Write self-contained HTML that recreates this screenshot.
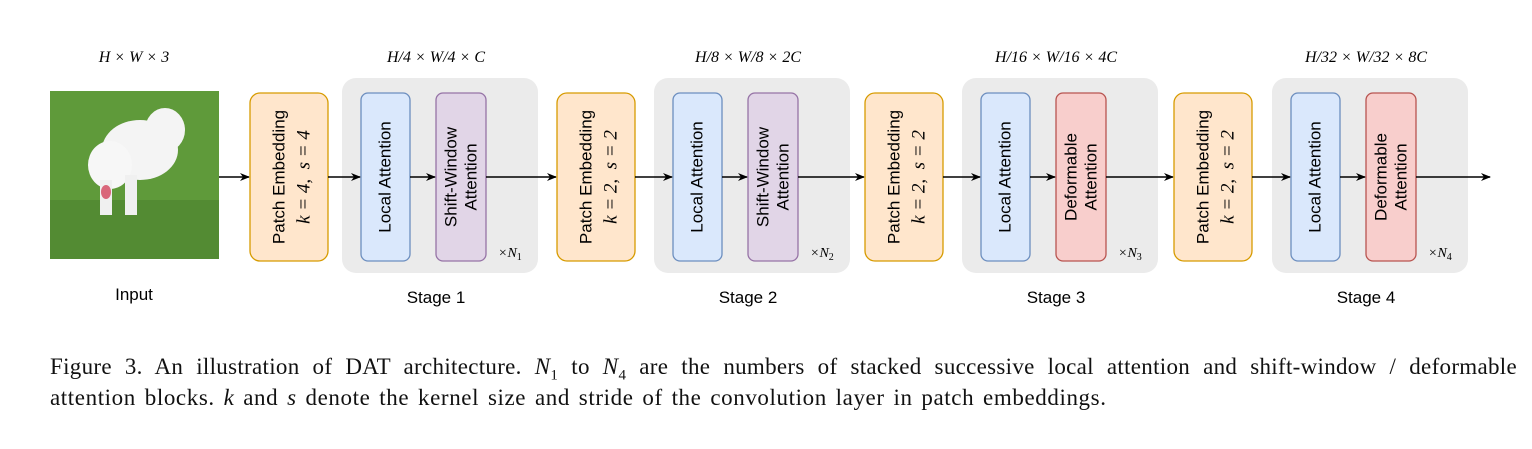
<!DOCTYPE html>
<html><head><meta charset="utf-8"><style>
body{margin:0;background:#fff;width:1532px;height:449px;overflow:hidden}
.cap{position:absolute;left:50px;font-family:"Liberation Serif",serif;font-size:23px;letter-spacing:0.6px;word-spacing:2.5px;line-height:31px;color:#111;width:1467px;white-space:nowrap}
.l1{top:351px;text-align:justify;text-align-last:justify;white-space:normal;word-spacing:0;letter-spacing:0.3px}
.l2{top:382px}
i{font-style:italic}
</style></head><body>
<svg width="1532" height="449" style="position:absolute;left:0;top:0" font-family="Liberation Sans, sans-serif">
<defs><marker id="a" markerWidth="10" markerHeight="8" refX="9" refY="4" orient="auto" markerUnits="userSpaceOnUse"><path d="M0,0 L10,4 L0,8 L3,4z" fill="#000"/></marker></defs>
<rect x="50" y="91" width="169" height="168" fill="#5f9a3a"/>
<rect x="50" y="200" width="169" height="59" fill="#4e8530" opacity="0.7"/>
<ellipse cx="140" cy="150" rx="38" ry="30" fill="#f4f4f4"/>
<ellipse cx="165" cy="130" rx="20" ry="22" fill="#f4f4f4"/>
<ellipse cx="110" cy="165" rx="22" ry="24" fill="#f7f7f7"/>
<rect x="100" y="180" width="12" height="35" fill="#f0f0f0"/>
<rect x="125" y="175" width="12" height="40" fill="#f0f0f0"/>
<ellipse cx="106" cy="192" rx="5" ry="7" fill="#d9667a"/>
<text x="134" y="300" font-size="17" text-anchor="middle">Input</text>
<text x="134" y="62" font-size="16" font-style="italic" font-family="Liberation Serif, serif" text-anchor="middle">H × W × 3</text>
<line x1="219" y1="177" x2="249" y2="177" stroke="#000" stroke-width="1.5" marker-end="url(#a)"/>
<g id="stages"></g>
</svg>
<script>
const S=[[342,250,'k = 4,  s = 4','Shift-Window','#e1d5e7','#9673a6','H/4 × W/4 × C','1'],
[654,557,'k = 2,  s = 2','Shift-Window','#e1d5e7','#9673a6','H/8 × W/8 × 2C','2'],
[962,865,'k = 2,  s = 2','Deformable','#f8cecc','#b85450','H/16 × W/16 × 4C','3'],
[1272,1174,'k = 2,  s = 2','Deformable','#f8cecc','#b85450','H/32 × W/32 × 8C','4']];
let h='';
S.forEach((s,i)=>{const [sx,px,k,t2,f,st,dim,n]=s;
const lx=sx+19, ax=sx+94, cx=sx+98;
h+=`<rect x="${sx}" y="78" width="196" height="195" rx="14" fill="#ebebeb"/>`;
h+=`<rect x="${px}" y="93" width="78" height="168" rx="10" fill="#ffe6cc" stroke="#d79b00" stroke-width="1.3"/>`;
h+=`<text transform="translate(${px+30},177) rotate(-90)" font-size="17" text-anchor="middle" dominant-baseline="middle">Patch Embedding</text>`;
h+=`<text transform="translate(${px+55},177) rotate(-90)" font-size="19" font-style="italic" font-family="Liberation Serif, serif" text-anchor="middle" dominant-baseline="middle" xml:space="preserve">${k}</text>`;
h+=`<rect x="${lx}" y="93" width="49" height="168" rx="7" fill="#dae8fc" stroke="#6c8ebf" stroke-width="1.3"/>`;
h+=`<text transform="translate(${lx+25},177) rotate(-90)" font-size="17" text-anchor="middle" dominant-baseline="middle">Local Attention</text>`;
h+=`<rect x="${ax}" y="93" width="50" height="168" rx="7" fill="${f}" stroke="${st}" stroke-width="1.3"/>`;
h+=`<text transform="translate(${ax+16},177) rotate(-90)" font-size="17" text-anchor="middle" dominant-baseline="middle">${t2}</text>`;
h+=`<text transform="translate(${ax+36},177) rotate(-90)" font-size="17" text-anchor="middle" dominant-baseline="middle">Attention</text>`;
h+=`<text x="${sx+156}" y="257" font-size="14" font-style="italic" font-family="Liberation Serif, serif">×N<tspan font-size="10" dy="3" font-style="normal">${n}</tspan></text>`;
h+=`<text x="${cx-4}" y="303" font-size="17" text-anchor="middle">Stage ${i+1}</text>`;
h+=`<text x="${cx-4}" y="62" font-size="16" font-style="italic" font-family="Liberation Serif, serif" text-anchor="middle">${dim}</text>`;
h+=`<line x1="${px+78}" y1="177" x2="${lx-1}" y2="177" stroke="#000" stroke-width="1.5" marker-end="url(#a)"/>`;
h+=`<line x1="${lx+49}" y1="177" x2="${ax-1}" y2="177" stroke="#000" stroke-width="1.5" marker-end="url(#a)"/>`;
const end=i<3?S[i+1][1]-1:1490;
h+=`<line x1="${ax+50}" y1="177" x2="${end}" y2="177" stroke="#000" stroke-width="1.5" marker-end="url(#a)"/>`;
});
document.getElementById('stages').outerHTML=h;
</script>
<div class="cap l1">Figure 3. An illustration of DAT architecture. <i>N</i><sub style="font-size:15px">1</sub> to <i>N</i><sub style="font-size:15px">4</sub> are the numbers of stacked successive local attention and shift-window / deformable</div>
<div class="cap l2">attention blocks. <i>k</i> and <i>s</i> denote the kernel size and stride of the convolution layer in patch embeddings.</div>
</body></html>
